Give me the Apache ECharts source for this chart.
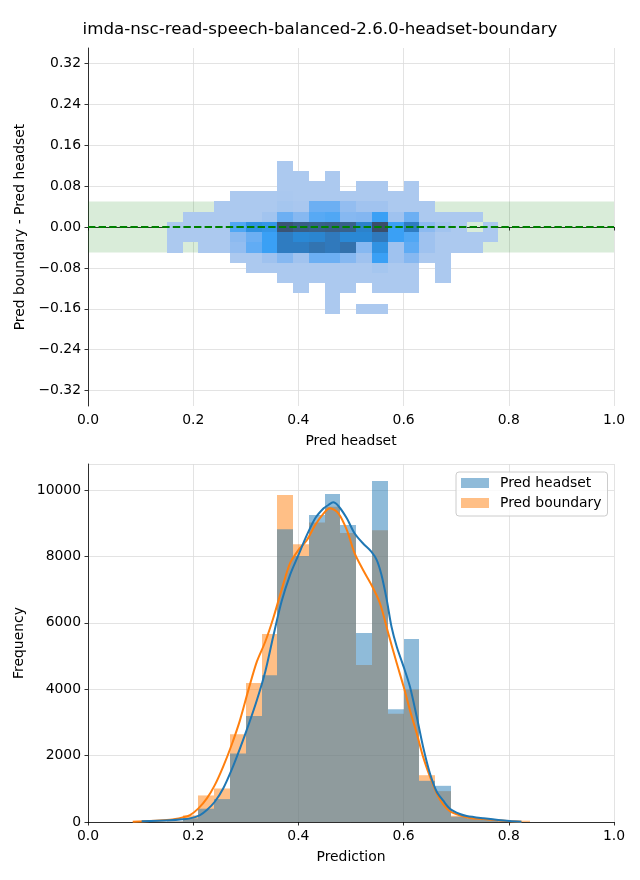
<!DOCTYPE html>
<html><head><meta charset="utf-8">
<script src="https://cdn.jsdelivr.net/npm/echarts@6/dist/echarts.min.js"></script>
<style>html,body{margin:0;padding:0;background:#fff}#chart{width:640px;height:880px}</style>
</head><body><div id="chart"></div>
<script>
// ---------------- DATA ----------------
const titleText = 'imda-nsc-read-speech-balanced-2.6.0-headset-boundary';

// top panel: 2D histogram (Pred headset vs Pred boundary - Pred headset)
const heatColEdges = [0.15,0.18,0.21,0.24,0.27,0.30,0.33,0.36,0.39,0.42,0.45,0.48,0.51,0.54,0.57,0.60,0.63,0.66,0.69,0.72,0.75,0.78];
const heatRowEdges = [0.13,0.11,0.09,0.07,0.05,0.03,0.01,-0.01,-0.03,-0.05,-0.07,-0.09,-0.11,-0.13,-0.15,-0.17];
const heatCounts = [
  [0,0,0,0,0,0,0,100,0,0,0,0,0,0,0,0,0,0,0,0,0],
  [0,0,0,0,0,0,0,100,100,0,100,0,0,0,0,0,0,0,0,0,0],
  [0,0,0,0,0,0,0,100,100,100,100,0,100,100,0,100,0,0,0,0,0],
  [0,0,0,0,100,100,100,150,100,100,100,100,100,100,100,100,0,0,0,0,0],
  [0,0,0,100,100,100,100,300,200,1300,1300,700,450,450,100,100,100,0,0,0,0],
  [0,100,100,100,100,100,400,1300,900,1600,1700,900,950,2000,500,1300,100,100,100,100,0],
  [100,100,100,100,1700,2300,2200,3800,3500,3450,3500,3450,2700,4000,2000,2900,800,400,100,0,100],
  [100,100,100,100,800,1300,2000,2900,2500,2600,3000,2500,2500,3000,2000,1700,500,100,100,100,100],
  [100,0,100,100,700,1450,2000,2900,2900,3100,3000,3150,900,2300,500,1500,500,100,100,100,0],
  [0,0,0,0,100,100,500,900,450,1300,1300,900,500,2000,500,900,100,100,0,0,0],
  [0,0,0,0,0,100,100,100,100,100,100,100,100,300,100,100,0,100,0,0,0],
  [0,0,0,0,0,0,0,100,100,100,100,100,100,100,100,100,0,100,0,0,0],
  [0,0,0,0,0,0,0,0,100,0,100,100,0,100,100,100,0,0,0,0,0],
  [0,0,0,0,0,0,0,0,0,0,100,0,0,0,0,0,0,0,0,0,0],
  [0,0,0,0,0,0,0,0,0,0,100,0,100,100,0,0,0,0,0,0,0]
];
const bandLimits = [-0.05, 0.05];
const diffTicks = [-0.32,-0.24,-0.16,-0.08,0,0.08,0.16,0.24,0.32];

// bottom panel: histograms
const histEdges = [0.09,0.12,0.15,0.18,0.21,0.24,0.27,0.30,0.33,0.36,0.39,0.42,0.45,0.48,0.51,0.54,0.57,0.60,0.63,0.66,0.69,0.72,0.75,0.78,0.81,0.84];
const histHeadset  = [0,10,20,110,400,690,2060,3190,4420,8820,8010,9250,9880,8950,5690,10270,3400,5510,1240,1090,160,130,80,20,0];
const histBoundary = [30,10,20,200,800,1010,2640,4190,5660,9850,8370,9020,9500,8710,4730,8790,3260,3990,1410,930,190,100,60,40,40];

// KDE curves (scaled to counts)
const kdeHeadset = [[0.102,20],[0.156,50],[0.18,80],[0.194,110],[0.213,210],[0.226,360],[0.241,610],[0.257,1010],[0.273,1570],[0.289,2220],[0.305,2920],[0.321,3670],[0.337,4530],[0.352,5580],[0.368,6640],[0.384,7440],[0.40,8040],[0.416,8640],[0.432,9150],[0.448,9450],[0.457,9550],[0.466,9630],[0.476,9520],[0.492,9150],[0.507,8690],[0.523,8390],[0.539,8140],[0.549,7890],[0.558,7440],[0.568,6690],[0.577,5880],[0.587,5280],[0.60,4680],[0.612,4080],[0.625,3170],[0.637,2270],[0.65,1470],[0.663,910],[0.675,650],[0.688,400],[0.707,240],[0.72,180],[0.752,110],[0.78,60],[0.802,30],[0.824,10]];
const kdeBoundary = [[0.085,10],[0.156,70],[0.18,140],[0.194,210],[0.21,410],[0.226,710],[0.241,1110],[0.257,1670],[0.273,2320],[0.289,3070],[0.305,3980],[0.321,4830],[0.337,5430],[0.352,6130],[0.368,6990],[0.384,7790],[0.40,8190],[0.416,8490],[0.432,8950],[0.448,9300],[0.46,9450],[0.476,9300],[0.492,8800],[0.507,8090],[0.523,7590],[0.539,7140],[0.555,6590],[0.571,5680],[0.587,4780],[0.60,4080],[0.612,3370],[0.625,2670],[0.637,1970],[0.65,1370],[0.663,860],[0.675,540],[0.688,330],[0.707,200],[0.726,120],[0.752,90],[0.78,50],[0.802,25],[0.824,5]];

const seriesNames = ['Pred headset', 'Pred boundary'];
const axisNames = {topX: 'Pred headset', topY: 'Pred boundary - Pred headset', botX: 'Prediction', botY: 'Frequency'};

// ---------------- BUILD ----------------
const FONT = 'DejaVu Sans';
const FS = 13.9;
const BLUE = '#1f77b4', ORANGE = '#ff7f0e';
const BLUE_A = 'rgba(31,119,180,0.5)', ORANGE_A = 'rgba(255,127,14,0.5)';
const fmtMinus = s => String(s).replace('-', '\u2212');

const heatData = [];
heatCounts.forEach((row, i) => row.forEach((c, j) => {
  if (c > 0) heatData.push([heatColEdges[j], heatColEdges[j + 1], heatRowEdges[i + 1], heatRowEdges[i], c]);
}));
const mkHist = vals => vals.map((v, i) => [histEdges[i], histEdges[i + 1], v]);

function renderCell(params, api) {
  const p0 = api.coord([api.value(0), api.value(3)]);
  const p1 = api.coord([api.value(1), api.value(2)]);
  const x = Math.round(p0[0]), y = Math.round(p0[1]);
  return {type: 'rect', shape: {x: x, y: y, width: Math.round(p1[0]) - x, height: Math.round(p1[1]) - y},
    style: {fill: api.visual('color')}};
}
function makeBarRenderer(color) {
  return function (params, api) {
    const p0 = api.coord([api.value(0), 0]);
    const p1 = api.coord([api.value(1), api.value(2)]);
    const x = Math.round(p0[0]), y = p1[1];
    return {type: 'rect', shape: {x: x, y: y, width: Math.round(p1[0]) - x, height: p0[1] - y},
      style: {fill: color}};
  };
}

const axisLine = {show: true, lineStyle: {color: '#000', width: 0.8}};
const axisTick = {show: true, length: 3.5, inside: false, lineStyle: {color: '#000', width: 0.8}};
const splitLine = {show: true, lineStyle: {color: '#dcdcdc', width: 0.8}};
const labelStyle = {color: '#000', fontSize: FS, fontFamily: FONT};
const nameStyle = {color: '#000', fontSize: FS, fontFamily: FONT};

const option = {
  animation: false,
  backgroundColor: '#fff',
  textStyle: {fontFamily: FONT},
  title: {text: titleText, left: 'center', top: 16,
    textStyle: {fontSize: 16.7, fontWeight: 'normal', color: '#000', fontFamily: FONT}},
  legend: {
    data: [{name: seriesNames[0], itemStyle: {color: BLUE_A}}, {name: seriesNames[1], itemStyle: {color: ORANGE_A}}],
    orient: 'vertical', left: 456, top: 472, icon: 'rect', itemWidth: 28, itemHeight: 10, itemGap: 6,
    padding: [4, 6, 6, 5], backgroundColor: 'rgba(255,255,255,0.8)', borderColor: '#cccccc', borderWidth: 1, borderRadius: 3,
    textStyle: {fontSize: FS, color: '#000', fontFamily: FONT, padding: [0, 0, 0, 6]}
  },
  grid: [
    {left: 88, top: 48, width: 526, height: 358},
    {left: 88, top: 464, width: 526, height: 358}
  ],
  xAxis: [
    {gridIndex: 0, type: 'value', min: 0, max: 1, interval: 0.2, axisLine, axisTick, splitLine,
      axisLabel: Object.assign({margin: 7, formatter: v => v.toFixed(1)}, labelStyle),
      name: axisNames.topX, nameLocation: 'middle', nameGap: 28, nameTextStyle: nameStyle},
    {gridIndex: 1, type: 'value', min: 0, max: 1, interval: 0.2, axisLine, axisTick, splitLine,
      axisLabel: Object.assign({margin: 7, formatter: v => v.toFixed(1)}, labelStyle),
      name: axisNames.botX, nameLocation: 'middle', nameGap: 28, nameTextStyle: nameStyle}
  ],
  yAxis: [
    {gridIndex: 0, type: 'value', min: -0.35, max: 0.35, axisLine,
      axisTick: Object.assign({customValues: diffTicks}, axisTick), splitLine,
      axisLabel: Object.assign({margin: 7, customValues: diffTicks, formatter: v => fmtMinus(v.toFixed(2))}, labelStyle),
      name: axisNames.topY, nameLocation: 'middle', nameGap: 59, nameRotate: 90, nameTextStyle: nameStyle},
    {gridIndex: 1, type: 'value', min: 0, max: 10785, interval: 2000, axisLine, axisTick, splitLine,
      axisLabel: Object.assign({margin: 7, showMaxLabel: false, formatter: v => String(Math.round(v))}, labelStyle),
      name: axisNames.botY, nameLocation: 'middle', nameGap: 59, nameRotate: 90, nameTextStyle: nameStyle}
  ],
  visualMap: {
    show: false, type: 'continuous', seriesIndex: 1, dimension: 4, min: 0, max: 4000,
    inRange: {color: ['#afcbef', '#9fc2ef', '#80b5f1', '#5eabf4', '#3aa0f5', '#2a88d5', '#3079bc', '#395e86', '#3b4d6a']}
  },
  series: [
    {type: 'line', name: 'band', xAxisIndex: 0, yAxisIndex: 0, data: [], z: 1, silent: true,
      markArea: {silent: true, itemStyle: {color: 'rgba(0,128,0,0.15)'},
        data: [[{yAxis: bandLimits[0]}, {yAxis: bandLimits[1]}]]}},
    {type: 'custom', name: 'heat', xAxisIndex: 0, yAxisIndex: 0, data: heatData, z: 3,
      encode: {x: [0, 1], y: [2, 3]}, renderItem: renderCell, silent: true},
    {type: 'line', name: 'zero', xAxisIndex: 0, yAxisIndex: 0, data: [], z: 5, silent: true,
      markLine: {silent: true, symbol: ['none', 'none'], label: {show: false},
        lineStyle: {color: '#008000', type: [7.4, 3.2], width: 2}, data: [{yAxis: 0}]}},
    {type: 'custom', name: seriesNames[1], xAxisIndex: 1, yAxisIndex: 1, data: mkHist(histBoundary), z: 2,
      encode: {x: [0, 1], y: 2}, itemStyle: {color: ORANGE_A}, renderItem: makeBarRenderer(ORANGE_A)},
    {type: 'custom', name: seriesNames[0], xAxisIndex: 1, yAxisIndex: 1, data: mkHist(histHeadset), z: 2,
      encode: {x: [0, 1], y: 2}, itemStyle: {color: BLUE_A}, renderItem: makeBarRenderer(BLUE_A)},
    {type: 'line', name: 'kde boundary', xAxisIndex: 1, yAxisIndex: 1, data: kdeBoundary, z: 4,
      showSymbol: false, smooth: 0.3, lineStyle: {color: ORANGE, width: 2}, itemStyle: {color: ORANGE}},
    {type: 'line', name: 'kde headset', xAxisIndex: 1, yAxisIndex: 1, data: kdeHeadset, z: 4,
      showSymbol: false, smooth: 0.3, lineStyle: {color: BLUE, width: 2}, itemStyle: {color: BLUE}}
  ]
};
const chart = echarts.init(document.getElementById('chart'));
chart.setOption(option);
</script>
</body></html>
